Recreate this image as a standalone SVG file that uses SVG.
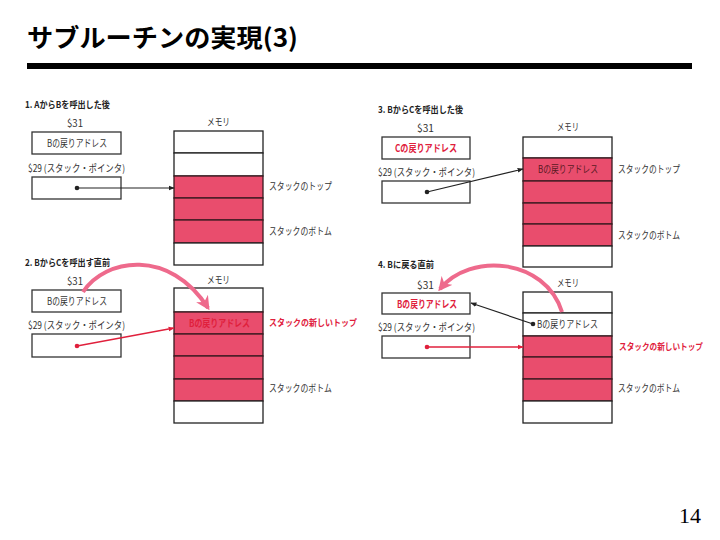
<svg xmlns="http://www.w3.org/2000/svg" width="720" height="540" viewBox="0 0 720 540">
<defs>
<style>
text{font-family:"Noto Sans CJK JP","Liberation Sans",sans-serif;fill:#333;}
.ttl{font-size:25px;font-weight:bold;fill:#000;}
.h{font-size:9.5px;font-weight:bold;fill:#222;}
.t{font-size:10px;}
.s{font-size:9px;}
.red{fill:#e0203c;font-weight:bold;}
.box{fill:#fff;stroke:#333;stroke-width:1.3;}
.mem{fill:#fff;stroke:#222;stroke-width:1.3;}
.pk{fill:#e94d6d;stroke:#3a1a20;stroke-width:1.3;}
.pn{font-family:"Liberation Serif",serif;font-size:22px;fill:#000;}
.blk{stroke:#222;stroke-width:1.2;fill:none;}
.rl{stroke:#e0203c;stroke-width:1.3;fill:none;}
.cv{stroke:#ee6a8c;stroke-width:4;fill:none;}
</style>
<marker id="ab" viewBox="0 0 10 10" refX="9" refY="5" markerWidth="6" markerHeight="6" orient="auto" markerUnits="userSpaceOnUse"><path d="M0,1 L10,5 L0,9 z" fill="#222"/></marker>
<marker id="ar" viewBox="0 0 10 10" refX="9" refY="5" markerWidth="6" markerHeight="6" orient="auto" markerUnits="userSpaceOnUse"><path d="M0,1 L10,5 L0,9 z" fill="#e0203c"/></marker>
<marker id="ap" viewBox="0 0 10 10" refX="8" refY="5" markerWidth="14" markerHeight="14" orient="auto" markerUnits="userSpaceOnUse"><path d="M0,0 L10,5 L0,10 L3,5 z" fill="#ee6a8c"/></marker>
</defs>
<rect width="720" height="540" fill="#fff"/>
<g id="title">
<text class="ttl" x="27" y="47" textLength="271" lengthAdjust="spacingAndGlyphs">サブルーチンの実現(3)</text>
<rect x="27" y="63" width="665" height="6" fill="#000"/>
</g>

<!-- Panel 1 -->
<g id="panel1">
<text class="h" x="25" y="108" textLength="85" lengthAdjust="spacingAndGlyphs">1. AからBを呼出した後</text>
<text class="t" x="67" y="127" textLength="16" lengthAdjust="spacingAndGlyphs">$31</text>
<rect class="box" x="32" y="132" width="89" height="22"/>
<text class="t" x="47" y="147" textLength="60" lengthAdjust="spacingAndGlyphs">Bの戻りアドレス</text>
<text class="t" x="28" y="172" textLength="97" lengthAdjust="spacingAndGlyphs">$29 (スタック・ポインタ)</text>
<rect class="box" x="32" y="177" width="89" height="22"/>
<text class="t" x="207" y="126" textLength="23" lengthAdjust="spacingAndGlyphs">メモリ</text>
<rect class="mem" x="174" y="131" width="89" height="22"/>
<rect class="mem" x="174" y="153" width="89" height="23"/>
<rect class="pk" x="174" y="176" width="89" height="22"/>
<rect class="pk" x="174" y="198" width="89" height="22"/>
<rect class="pk" x="174" y="220" width="89" height="23"/>
<rect class="mem" x="174" y="243" width="89" height="22"/>
<text class="t" x="269" y="190" textLength="63" lengthAdjust="spacingAndGlyphs">スタックのトップ</text>
<text class="t" x="269" y="235" textLength="63" lengthAdjust="spacingAndGlyphs">スタックのボトム</text>
</g>

<!-- Panel 2 -->
<g id="panel2">
<text class="h" x="25" y="266" textLength="85" lengthAdjust="spacingAndGlyphs">2. BからCを呼出す直前</text>
<text class="t" x="67" y="285" textLength="16" lengthAdjust="spacingAndGlyphs">$31</text>
<rect class="box" x="32" y="290" width="89" height="22"/>
<text class="t" x="47" y="305" textLength="60" lengthAdjust="spacingAndGlyphs">Bの戻りアドレス</text>
<text class="t" x="28" y="329" textLength="97" lengthAdjust="spacingAndGlyphs">$29 (スタック・ポインタ)</text>
<rect class="box" x="32" y="334" width="89" height="23"/>
<text class="t" x="207" y="284" textLength="23" lengthAdjust="spacingAndGlyphs">メモリ</text>
<rect class="mem" x="174" y="288" width="89" height="24"/>
<rect class="pk" x="174" y="312" width="89" height="22"/>
<rect class="pk" x="174" y="334" width="89" height="22"/>
<rect class="pk" x="174" y="356" width="89" height="23"/>
<rect class="pk" x="174" y="379" width="89" height="22"/>
<rect class="mem" x="174" y="401" width="89" height="22"/>
<text class="t red" x="189" y="327" textLength="61" lengthAdjust="spacingAndGlyphs">Bの戻りアドレス</text>
<text class="s red" x="269" y="326" textLength="88" lengthAdjust="spacingAndGlyphs">スタックの新しいトップ</text>
<text class="t" x="269" y="392" textLength="63" lengthAdjust="spacingAndGlyphs">スタックのボトム</text>
</g>

<!-- Panel 3 -->
<g id="panel3">
<text class="h" x="378" y="113" textLength="85" lengthAdjust="spacingAndGlyphs">3. BからCを呼出した後</text>
<text class="t" x="417" y="132" textLength="17" lengthAdjust="spacingAndGlyphs">$31</text>
<rect class="box" x="382" y="137" width="88" height="22"/>
<text class="t red" x="395" y="152" textLength="62" lengthAdjust="spacingAndGlyphs">Cの戻りアドレス</text>
<text class="t" x="378" y="176" textLength="97" lengthAdjust="spacingAndGlyphs">$29 (スタック・ポインタ)</text>
<rect class="box" x="382" y="181" width="88" height="22"/>
<text class="t" x="557" y="131" textLength="22" lengthAdjust="spacingAndGlyphs">メモリ</text>
<rect class="mem" x="523" y="137" width="89" height="21"/>
<rect class="pk" x="523" y="158" width="89" height="23"/>
<rect class="pk" x="523" y="181" width="89" height="22"/>
<rect class="pk" x="523" y="203" width="89" height="21"/>
<rect class="pk" x="523" y="224" width="89" height="22"/>
<rect class="mem" x="523" y="246" width="89" height="21"/>
<text class="t" x="538" y="173" textLength="60" lengthAdjust="spacingAndGlyphs" style="fill:#5a1a24">Bの戻りアドレス</text>
<text class="t" x="618" y="173" textLength="62" lengthAdjust="spacingAndGlyphs">スタックのトップ</text>
<text class="t" x="618" y="239" textLength="62" lengthAdjust="spacingAndGlyphs">スタックのボトム</text>
</g>

<!-- Panel 4 -->
<g id="panel4">
<text class="h" x="378" y="268" textLength="56" lengthAdjust="spacingAndGlyphs">4. Bに戻る直前</text>
<text class="t" x="417" y="289" textLength="17" lengthAdjust="spacingAndGlyphs">$31</text>
<rect class="box" x="382" y="293" width="88" height="21"/>
<text class="t red" x="397" y="308" textLength="60" lengthAdjust="spacingAndGlyphs">Bの戻りアドレス</text>
<text class="t" x="378" y="331" textLength="97" lengthAdjust="spacingAndGlyphs">$29 (スタック・ポインタ)</text>
<rect class="box" x="382" y="336" width="88" height="22"/>
<text class="t" x="557" y="287" textLength="22" lengthAdjust="spacingAndGlyphs">メモリ</text>
<rect class="mem" x="523" y="292" width="89" height="21"/>
<rect class="mem" x="523" y="313" width="89" height="23"/>
<rect class="pk" x="523" y="336" width="89" height="21"/>
<rect class="pk" x="523" y="357" width="89" height="22"/>
<rect class="pk" x="523" y="379" width="89" height="22"/>
<rect class="mem" x="523" y="401" width="89" height="22"/>
<text class="t" x="537" y="328" textLength="61" lengthAdjust="spacingAndGlyphs">Bの戻りアドレス</text>
<text class="s red" x="619" y="350" textLength="84" lengthAdjust="spacingAndGlyphs">スタックの新しいトップ</text>
<text class="t" x="618" y="392" textLength="62" lengthAdjust="spacingAndGlyphs">スタックのボトム</text>
</g>

<g id="connectors">
<circle cx="77" cy="188" r="2.3" fill="#222"/>
<line class="blk" x1="77" y1="188" x2="174" y2="188" marker-end="url(#ab)"/>
<circle cx="77" cy="346" r="2.3" fill="#e0203c"/>
<line class="rl" x1="77" y1="346" x2="174" y2="328" marker-end="url(#ar)"/>
<path class="cv" d="M83,292 C105,258 170,248 208,308" marker-end="url(#ap)"/>
<circle cx="427" cy="192" r="2.3" fill="#222"/>
<line class="blk" x1="427" y1="192" x2="523" y2="169" marker-end="url(#ab)"/>
<circle cx="427" cy="347" r="2.3" fill="#e0203c"/>
<line class="rl" x1="427" y1="347" x2="523" y2="347" marker-end="url(#ar)"/>
<circle cx="533" cy="324" r="2.3" fill="#222"/>
<line class="blk" x1="533" y1="324" x2="471" y2="303" marker-end="url(#ab)"/>
<path class="cv" d="M562,312 C545,258 470,252 440,289" marker-end="url(#ap)"/>
</g>

<text class="pn" x="679" y="523">14</text>
</svg>
